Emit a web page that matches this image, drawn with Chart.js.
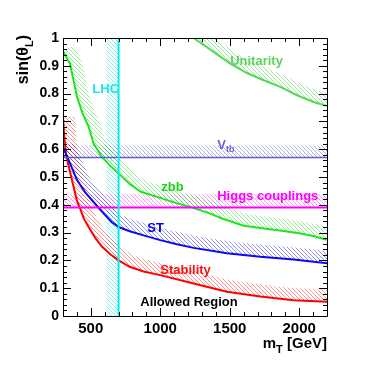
<!DOCTYPE html>
<html><head><meta charset="utf-8">
<script src="https://cdn.jsdelivr.net/npm/chart.js@4/dist/chart.umd.min.js"></script>
<style>html,body{margin:0;padding:0;background:#fff;}</style>
</head><body>
<canvas id="c" width="390" height="377"></canvas>
<script>
// ---- data ----
const xTickValues = [500, 1000, 1500, 2000];
const xTickLabels = ['500', '1000', '1500', '2000'];
const yTickValues = [0, 0.1, 0.2, 0.3, 0.4, 0.5, 0.6, 0.7, 0.8, 0.9, 1];
const yTickLabels = ['0', '0.1', '0.2', '0.3', '0.4', '0.5', '0.6', '0.7', '0.8', '0.9', '1'];

const unitarityMass = [1240, 1384, 1504, 1624, 1744, 1864, 1984, 2104, 2200];
const unitaritySin  = [1.0, 0.95, 0.908, 0.874, 0.848, 0.824, 0.794, 0.77, 0.755];

const zbbMass = [300, 350, 375, 400, 440, 485, 520, 580, 640, 700, 780, 860, 1000, 1120, 1230, 1350, 1450, 1600, 1750, 1900, 2000, 2100, 2200];
const zbbSin  = [0.953, 0.908, 0.85, 0.79, 0.73, 0.68, 0.62, 0.572, 0.54, 0.513, 0.475, 0.447, 0.425, 0.405, 0.39, 0.37, 0.35, 0.325, 0.315, 0.305, 0.298, 0.288, 0.274];

const stMass = [300, 350, 400, 460, 520, 590, 650, 700, 780, 880, 1000, 1120, 1240, 1480, 1720, 1960, 2200];
const stSin  = [0.607, 0.55, 0.49, 0.445, 0.41, 0.37, 0.338, 0.32, 0.305, 0.29, 0.273, 0.258, 0.245, 0.226, 0.213, 0.203, 0.19];

const stabilityMass = [300, 310, 320, 335, 350, 376, 400, 424, 450, 484, 530, 580, 640, 700, 780, 880, 1000, 1240, 1480, 1720, 1960, 2200];
const stabilitySin  = [0.715, 0.64, 0.59, 0.55, 0.52, 0.465, 0.415, 0.385, 0.35, 0.32, 0.283, 0.25, 0.222, 0.2, 0.177, 0.16, 0.147, 0.117, 0.087, 0.07, 0.057, 0.051];

const vtbMass = [300, 2200];
const vtbSin  = [0.57, 0.57];
const higgsMass = [300, 2200];
const higgsSin  = [0.39, 0.39];
const lhcMass = [700, 700];
const lhcSin  = [0, 1];

// text annotations (data coordinates, left/middle anchored)
const noteText  = ['LHC', 'Unitarity', 'V', 'zbb', 'Higgs couplings', 'ST', 'Stability', 'Allowed Region'];
const noteMass  = [511, 1503, 1410, 1007, 1410, 907, 1000, 856];
const noteSin   = [0.816, 0.916, 0.614, 0.464, 0.431, 0.316, 0.165, 0.05];

// ---- styling ----
const FONT = '"Liberation Sans", Arial, Helvetica, sans-serif';
const noteColor = ['#22e6e6', '#5fd35f', '#6464d2', '#1ed21e', '#ff00ff', '#0000ee', '#ff1010', '#000000'];
const noteSub   = ['', '', 'tb', '', '', '', '', ''];

function pts(xs, ys) { return xs.map((x, i) => ({ x: x, y: ys[i] })); }

const datasets = [
  { label: 'LHC', data: pts(lhcMass, lhcSin), borderColor: '#00f0f0', borderWidth: 2, hatchColor: 'rgba(0,225,225,0.5)', hatchWidth: 12 },
  { label: 'Vtb', data: pts(vtbMass, vtbSin), borderColor: '#5a5ad6', borderWidth: 1.5, hatchColor: 'rgba(70,70,215,0.42)', hatchWidth: 12 },
  { label: 'Higgs', data: pts(higgsMass, higgsSin), borderColor: '#ff00ff', borderWidth: 2, hatchColor: 'rgba(255,0,255,0.42)', hatchWidth: 13 },
  { label: 'Unitarity', data: pts(unitarityMass, unitaritySin), borderColor: '#55d855', borderWidth: 2, hatchColor: 'rgba(40,200,40,0.45)', hatchWidth: 12 },
  { label: 'zbb', data: pts(zbbMass, zbbSin), borderColor: '#1ee61e', borderWidth: 2, hatchColor: 'rgba(0,210,0,0.42)', hatchWidth: 12 },
  { label: 'ST', data: pts(stMass, stSin), borderColor: '#0a0af0', borderWidth: 2, hatchColor: 'rgba(0,0,240,0.42)', hatchWidth: 12 },
  { label: 'Stability', data: pts(stabilityMass, stabilitySin), borderColor: '#ff0000', borderWidth: 2, hatchColor: 'rgba(255,0,0,0.42)', hatchWidth: 12 }
];
datasets.forEach(d => { d.pointRadius = 0; d.fill = false; d.tension = 0; });

function makePattern(ctx, color) {
  const c = document.createElement('canvas');
  c.width = 4; c.height = 4;
  const g = c.getContext('2d');
  g.fillStyle = color;
  for (let i = 0; i < 4; i++) g.fillRect(i, i, 1, 1);
  return ctx.createPattern(c, 'repeat');
}

const hatchPlugin = {
  id: 'hatch',
  beforeDatasetsDraw(chart) {
    const ctx = chart.ctx, ca = chart.chartArea;
    ctx.save();
    ctx.beginPath(); ctx.rect(ca.left, ca.top, ca.right - ca.left, ca.bottom - ca.top); ctx.clip();
    chart.data.datasets.forEach((ds, di) => {
      const meta = chart.getDatasetMeta(di);
      const p = meta.data.map(e => ({ x: e.x, y: e.y }));
      const w = ds.hatchWidth, n = p.length, off = [];
      for (let i = 0; i < n; i++) {
        let nx = 0, ny = 0;
        if (i > 0) { const dx = p[i].x - p[i-1].x, dy = p[i].y - p[i-1].y, L = Math.hypot(dx, dy) || 1; nx += dy / L; ny += -dx / L; }
        if (i < n - 1) { const dx = p[i+1].x - p[i].x, dy = p[i+1].y - p[i].y, L = Math.hypot(dx, dy) || 1; nx += dy / L; ny += -dx / L; }
        const L = Math.hypot(nx, ny) || 1;
        off.push({ x: p[i].x + nx / L * w, y: p[i].y + ny / L * w });
      }
      ctx.beginPath();
      p.forEach((q, i) => i ? ctx.lineTo(q.x, q.y) : ctx.moveTo(q.x, q.y));
      for (let i = n - 1; i >= 0; i--) ctx.lineTo(off[i].x, off[i].y);
      ctx.closePath();
      ctx.fillStyle = makePattern(ctx, ds.hatchColor);
      ctx.fill();
    });
    ctx.restore();
  }
};

function drawRich(ctx, parts, x, y, align, size) {
  let total = 0;
  const widths = parts.map(([t, sub]) => {
    ctx.font = 'bold ' + (sub ? Math.round(size * 0.7) : size) + 'px ' + FONT;
    const w = ctx.measureText(t).width; total += w; return w;
  });
  let cx = align === 'right' ? x - total : x;
  parts.forEach(([t, sub], i) => {
    ctx.font = 'bold ' + (sub ? Math.round(size * 0.7) : size) + 'px ' + FONT;
    ctx.fillText(t, cx, sub ? y + size * 0.3 : y);
    cx += widths[i];
  });
}

const framePlugin = {
  id: 'frame',
  afterDraw(chart) {
    const ctx = chart.ctx, ca = chart.chartArea;
    const xs = chart.scales.x, ys = chart.scales.y;
    ctx.save();
    ctx.strokeStyle = '#000'; ctx.lineWidth = 1;
    ctx.beginPath();
    ctx.rect(Math.round(ca.left) + 0.5, Math.round(ca.top) + 0.5, Math.round(ca.right - ca.left), Math.round(ca.bottom - ca.top));
    ctx.stroke();
    ctx.beginPath();
    for (let v = 300; v <= 2200; v += 100) {
      const px = Math.round(xs.getPixelForValue(v)) + 0.5;
      const len = v % 500 === 0 ? 8 : 4;
      ctx.moveTo(px, ca.bottom); ctx.lineTo(px, ca.bottom - len);
      ctx.moveTo(px, ca.top); ctx.lineTo(px, ca.top + len);
    }
    for (let k = 0; k <= 50; k++) {
      const v = k * 0.02;
      const py = Math.round(ys.getPixelForValue(v)) + 0.5;
      const len = k % 5 === 0 ? 8 : 4;
      ctx.moveTo(ca.left, py); ctx.lineTo(ca.left + len, py);
      ctx.moveTo(ca.right, py); ctx.lineTo(ca.right - len, py);
    }
    ctx.stroke();

    ctx.textBaseline = 'middle'; ctx.textAlign = 'left';
    noteText.forEach((t, i) => {
      ctx.fillStyle = noteColor[i];
      const px = xs.getPixelForValue(noteMass[i]), py = ys.getPixelForValue(noteSin[i]);
      const parts = [[t, false]];
      if (noteSub[i]) parts.push([noteSub[i], true]);
      drawRich(ctx, parts, px, py, 'left', 13);
    });

    ctx.fillStyle = '#000'; ctx.textBaseline = 'alphabetic';
    drawRich(ctx, [['m', false], ['T', true], [' [GeV]', false]], ca.right, 348, 'right', 15);
    ctx.translate(28, ca.top - 3);
    ctx.rotate(-Math.PI / 2);
    drawRich(ctx, [['sin(θ', false], ['L', true], [')', false]], 0, 0, 'right', 16);
    ctx.restore();
  }
};

new Chart(document.getElementById('c'), {
  type: 'line',
  data: { datasets: datasets },
  plugins: [hatchPlugin, framePlugin],
  options: {
    responsive: false,
    devicePixelRatio: 1,
    animation: false,
    layout: { padding: { top: 38, right: 63, left: 0, bottom: 0 } },
    plugins: { legend: { display: false }, tooltip: { enabled: false } },
    scales: {
      x: {
        type: 'linear', min: 300, max: 2200,
        grid: { display: false, drawTicks: false }, border: { display: false },
        afterBuildTicks: ax => { ax.ticks = xTickValues.map(v => ({ value: v })); },
        afterFit: ax => { ax.height = 61; },
        ticks: { padding: 4, maxRotation: 0, autoSkip: false, color: '#000', font: { family: FONT, size: 15, weight: 'bold' },
          callback: (v) => xTickLabels[xTickValues.indexOf(v)] }
      },
      y: {
        type: 'linear', min: 0, max: 1,
        grid: { display: false, drawTicks: false }, border: { display: false },
        afterBuildTicks: ax => { ax.ticks = yTickValues.map(v => ({ value: v })); },
        afterFit: ax => { ax.width = 63; },
        ticks: { padding: 4, autoSkip: false, color: '#000', font: { family: FONT, size: 14, weight: 'bold' },
          callback: (v) => { const i = yTickValues.findIndex(t => Math.abs(t - v) < 1e-9); return i >= 0 ? yTickLabels[i] : ''; } }
      }
    }
  }
});
</script>
</body></html>
